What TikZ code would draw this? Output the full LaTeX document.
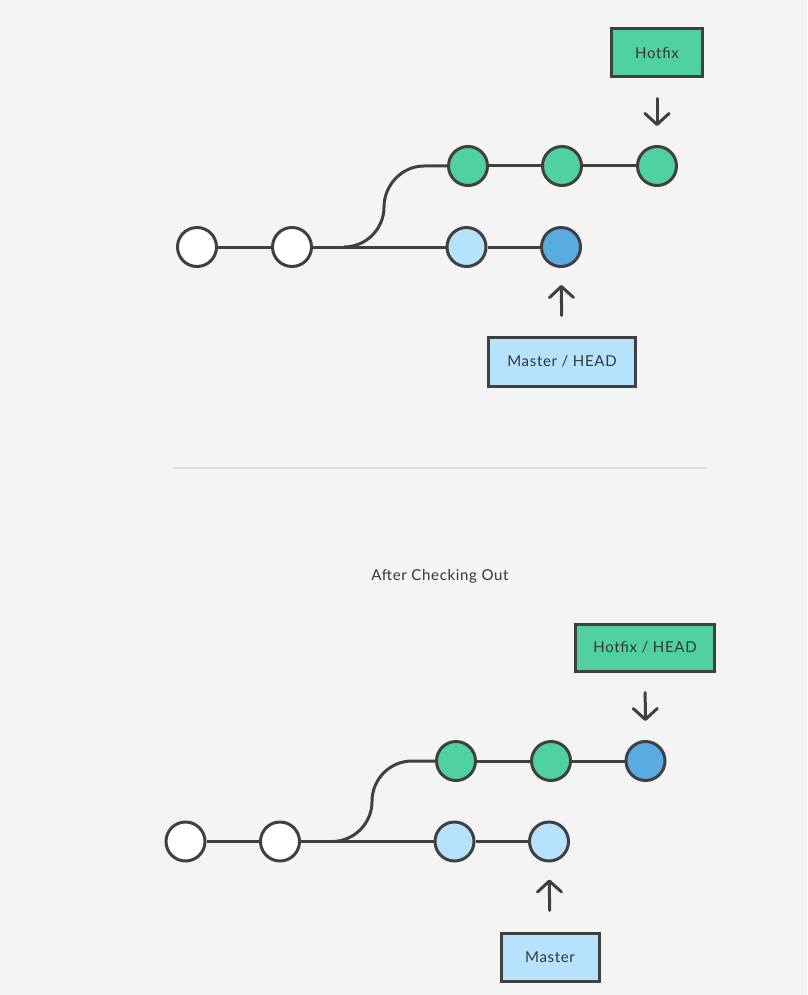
\documentclass[tikz,border=0pt]{standalone}
\usepackage{fontspec}
\setmainfont{Lato}[LetterSpace=4.5]
\usetikzlibrary{arrows.meta}
\definecolor{bgc}{HTML}{F4F4F4}
\definecolor{ink}{HTML}{404040}
\definecolor{gitgreen}{HTML}{4FD1A0}
\definecolor{lightblue}{HTML}{B5E2FC}
\definecolor{darkblue}{HTML}{59ACDF}
\definecolor{sepc}{HTML}{DDDDDD}
\definecolor{txt}{HTML}{363636}
\tikzset{
  commit/.style={circle, draw=ink, line width=3pt, minimum size=39pt, inner sep=0pt},
  wc/.style={commit, fill=white},
  gc/.style={commit, fill=gitgreen},
  lc/.style={commit, fill=lightblue},
  dc/.style={commit, fill=darkblue},
  edge/.style={draw=ink, line width=3pt},
  label box/.style={rectangle, draw=ink, line width=3pt, inner sep=0pt, text=txt, font=\fontsize{15}{17}\selectfont},
  pointer/.style={draw=ink, line width=3pt, line cap=round, -{Straight Barb[length=11pt,width=24pt,line cap=round,line join=round]}},
}
\begin{document}
\begin{tikzpicture}[x=1pt,y=-1pt]
\fill[bgc] (0,0) rectangle (807,995);
\useasboundingbox (0,0) rectangle (807,995);

% ---------- top diagram ----------
\node[wc] (a1) at (197,247) {};
\node[wc] (a2) at (292,247) {};
\node[lc] (a3) at (466.5,247) {};
\node[dc] (a4) at (561,247) {};
\node[gc] (b1) at (468,166) {};
\node[gc] (b2) at (562,166) {};
\node[gc] (b3) at (657,166) {};
\coordinate (af) at (344,247);

\node[label box, fill=gitgreen, minimum width=91pt, minimum height=48pt] (hot1) at (657,53) {Hotfix};
\node[label box, fill=lightblue, minimum width=147pt, minimum height=49pt] (mh1) at (562,361.5) {Master / HEAD};

\draw[edge] (a1) -- (a2);
\draw[edge] (a2) -- (a3);
\draw[edge] (a3) -- (a4);
\draw[edge] (b1) -- (b2);
\draw[edge] (b2) -- (b3);
\draw[edge] (af) .. controls (366,247) and (384,229) .. (384,207)
                 .. controls (384,185) and (402,166) .. (424,166) -- (b1);

\draw[pointer, shorten <=20pt, shorten >=19pt] (hot1) -- (b3);
\draw[pointer, shorten <=20pt, shorten >=17pt] (mh1) -- (a4);

% ---------- separator ----------
\coordinate (s1) at (173,468);
\coordinate (s2) at (707,468);
\draw[sepc, line width=1.5pt] (s1) -- (s2);

\node[text=txt, font=\fontsize{15}{17}\selectfont] (title) at (440,576) {After Checking Out};

% ---------- bottom diagram ----------
\node[wc] (c1) at (185.5,841.5) {};
\node[wc] (c2) at (280,841.5) {};
\node[lc] (c3) at (454.5,841.5) {};
\node[lc] (c4) at (549,841.5) {};
\node[gc] (d1) at (456,761) {};
\node[gc] (d2) at (551,761) {};
\node[dc] (d3) at (645.5,761) {};
\coordinate (cf) at (332,841.5);

\node[label box, fill=gitgreen, minimum width=139pt, minimum height=47pt] (hot2) at (645,647.5) {Hotfix / HEAD};
\node[label box, fill=lightblue, minimum width=98pt, minimum height=48pt] (m2) at (550,957) {Master};

\draw[edge] (c1) -- (c2);
\draw[edge] (c2) -- (c3);
\draw[edge] (c3) -- (c4);
\draw[edge] (d1) -- (d2);
\draw[edge] (d2) -- (d3);
\draw[edge] (cf) .. controls (354,841.5) and (372,823.5) .. (372,801.5)
                 .. controls (372,779) and (390,761) .. (412,761) -- (d1);

\draw[pointer, shorten <=20pt, shorten >=19pt] (hot2) -- (d3);
\draw[pointer, shorten <=21pt, shorten >=17pt] (m2) -- (c4);
\end{tikzpicture}
\end{document}
